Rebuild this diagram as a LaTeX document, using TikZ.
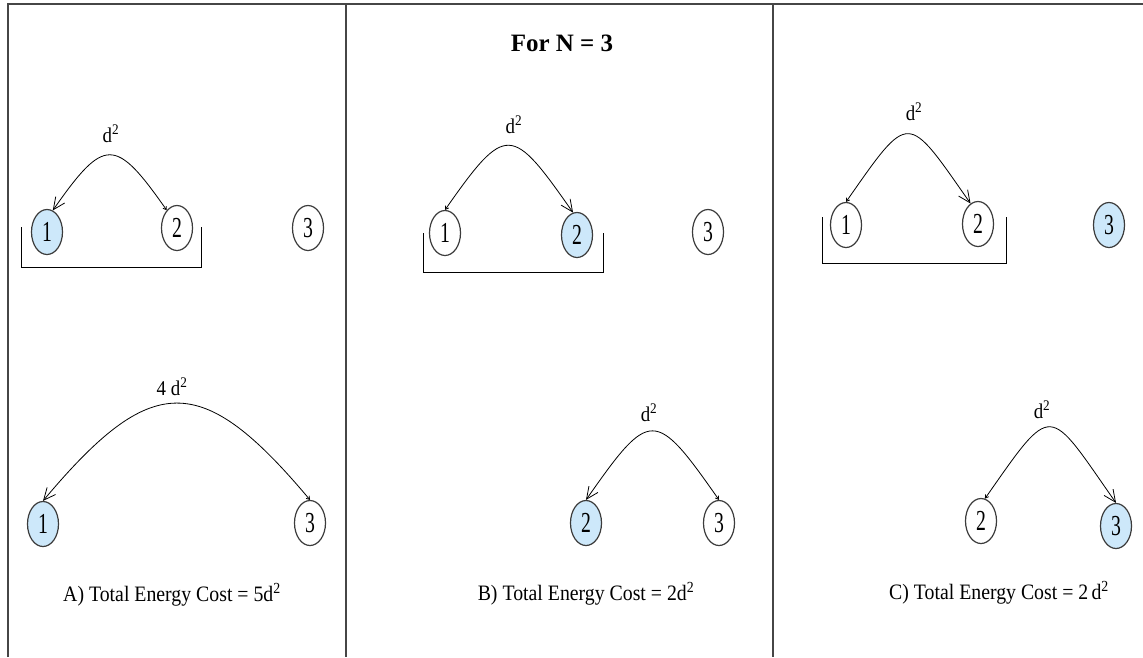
\documentclass[tikz,border=0pt]{standalone}
\usepackage{fontspec}
\setmainfont{Liberation Serif}
\usetikzlibrary{shapes.geometric,arrows.meta}
\definecolor{nodeblue}{RGB}{205,232,250}
\definecolor{framegray}{RGB}{70,70,70}
\definecolor{nodeedge}{RGB}{60,60,60}
\newcommand\dg[1]{\scalebox{0.68}[1]{#1}}
\newcommand\nx[1]{\scalebox{0.9}[1]{#1}}
\begin{document}
\begin{tikzpicture}[x=1pt,y=-1pt,
  nd/.style={ellipse,draw=nodeedge,line width=1.2pt,fill=white,minimum width=31pt,minimum height=45pt,inner sep=0pt,font=\fontsize{29}{29}\selectfont},
  hl/.style={nd,fill=nodeblue},
  arc/.style={line width=0.8pt,{Straight Barb[length=3pt,width=4pt]}-{Straight Barb[length=12pt,width=11pt]}},
  lbl/.style={anchor=base,inner sep=0pt,font=\fontsize{21}{21}\selectfont},
  captxt/.style={anchor=base,inner sep=0pt,font=\fontsize{22}{22}\selectfont},
  brk/.style={line width=1pt},
  frame/.style={line width=1.6pt,draw=framegray}]
\useasboundingbox (0,0) rectangle (1143,657);
\fill[white] (0,0) rectangle (1143,657);
% frame
\draw[frame] (8,657) -- (8,4) -- (1143,4);
\draw[frame] (346,4) -- (346,657);
\draw[frame] (773,4) -- (773,657);
% title
\node[anchor=base,inner sep=0pt,font=\fontsize{25}{25}\selectfont\bfseries] (title) at (562,51) {For N = 3};

% ---------- Panel A ----------
\draw[brk] (21,227) -- (21,267) -- (201,267) -- (201,227);
\node[hl] (a1) at (47,232) {\dg{1}};
\node[nd] (a2) at (177,228) {\dg{2}};
\node[nd] (a3) at (308,228) {\dg{3}};
\draw[arc] (a2.120) .. controls +(-125:90) and +(-55:90) .. (a1.75);
\node[lbl] (la1) at (111,142) {\nx{d\textsuperscript{2}}};

\node[hl] (a4) at (43,524) {\dg{1}};
\node[nd] (a5) at (310,523) {\dg{3}};
\draw[arc] (a5.north) .. controls +(-130:169) and +(-50:169) .. (a4.north);
\node[lbl] (la2) at (172,395) {\nx{4 d\textsuperscript{2}}};
\node[captxt] (ca) at (172,601) {\nx{A) Total Energy Cost = 5d\textsuperscript{2}}};

% ---------- Panel B ----------
\draw[brk] (423,233) -- (423,272) -- (603,272) -- (603,233);
\node[nd] (b1) at (445,233) {\dg{1}};
\node[hl] (b2) at (577,235) {\dg{2}};
\node[nd] (b3) at (708,232) {\dg{3}};
\draw[arc] (b1.north) .. controls +(-55:107) and +(-125:107) .. (b2.100);
\node[lbl] (lb1) at (514,133) {\nx{d\textsuperscript{2}}};

\node[hl] (b4) at (586,523) {\dg{2}};
\node[nd] (b5) at (719,523) {\dg{3}};
\draw[arc] (b5.north) .. controls +(-125:112) and +(-55:112) .. (b4.north);
\node[lbl] (lb2) at (649,421) {\nx{d\textsuperscript{2}}};
\node[captxt] (cb) at (586,600) {\nx{B) Total Energy Cost = 2d\textsuperscript{2}}};

% ---------- Panel C ----------
\draw[brk] (822,217) -- (822,263) -- (1006,263) -- (1006,217);
\node[nd] (c1) at (846,225) {\dg{1}};
\node[nd] (c2) at (978,224) {\dg{2}};
\node[hl] (c3) at (1109,225) {\dg{3}};
\draw[arc] (c1.north) .. controls +(-55:112) and +(-125:112) .. (c2.110);
\node[lbl] (lc1) at (914,120) {\nx{d\textsuperscript{2}}};

\node[nd] (c4) at (981,521) {\dg{2}};
\node[hl] (c5) at (1116,526) {\dg{3}};
\draw[arc] (c4.80) .. controls +(-55:120) and +(-125:120) .. (c5.north);
\node[lbl] (lc2) at (1042,418) {\nx{d\textsuperscript{2}}};
\node[captxt] (cc) at (999,599) {\nx{C) Total Energy Cost = 2\,d\textsuperscript{2}}};
\end{tikzpicture}
\end{document}
